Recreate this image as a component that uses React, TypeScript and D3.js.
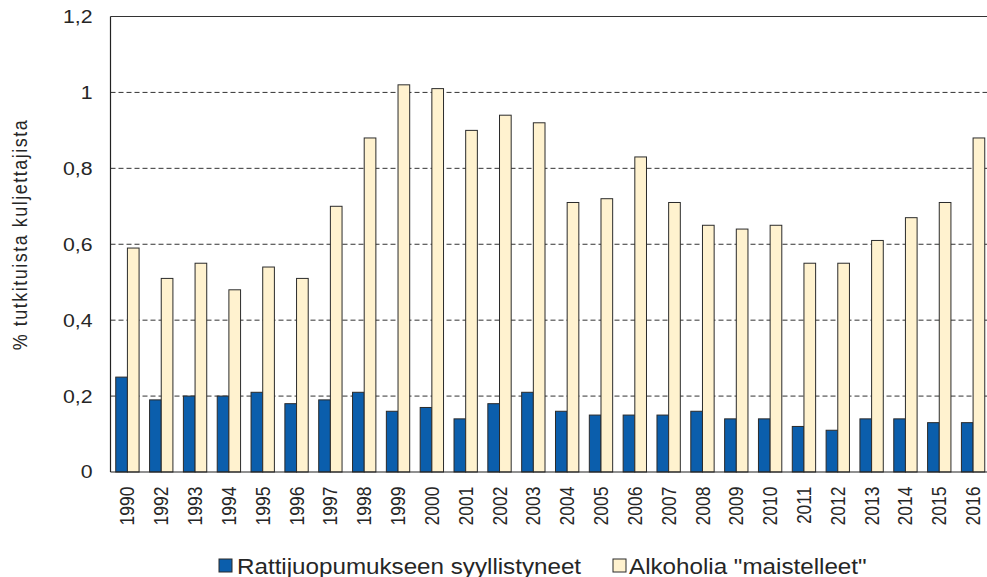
import * as d3 from 'd3';

const years = ['1990', '1992', '1993', '1994', '1995', '1996', '1997', '1998', '1999', '2000', '2001', '2002', '2003', '2004', '2005', '2006', '2007', '2008', '2009', '2010', '2011', '2012', '2013', '2014', '2015', '2016'];
const guilty = [0.25, 0.19, 0.2, 0.2, 0.21, 0.18, 0.19, 0.21, 0.16, 0.17, 0.14, 0.18, 0.21, 0.16, 0.15, 0.15, 0.15, 0.16, 0.14, 0.14, 0.12, 0.11, 0.14, 0.14, 0.13, 0.13];
const tasted = [0.59, 0.51, 0.55, 0.48, 0.54, 0.51, 0.7, 0.88, 1.02, 1.01, 0.9, 0.94, 0.92, 0.71, 0.72, 0.83, 0.71, 0.65, 0.64, 0.65, 0.55, 0.55, 0.61, 0.67, 0.71, 0.88];
const seriesNames = ['Rattijuopumukseen syyllistyneet', 'Alkoholia "maistelleet"'];
const yTicks = [0, 0.2, 0.4, 0.6, 0.8, 1, 1.2];

const COLORS = ['#0B5EAC', '#FFF2CF'];
const FONT = '"Liberation Sans", Arial, sans-serif';
const TEXT = '#262626';

export default function App() {
  const width = 987;
  const height = 577;
  const margin = { top: 16.5, left: 110.5, right: -3, bottom: 105 };
  const innerW = width - margin.left - margin.right;
  const innerH = height - margin.top - margin.bottom;

  const x = d3.scaleBand().domain(years).range([0, innerW]).paddingInner(0.31).paddingOuter(0.155);
  const x1 = d3.scaleBand().domain(['a', 'b']).range([0, x.bandwidth()]);
  const y = d3.scaleLinear().domain([0, 1.2]).range([innerH, 0]);
  const fmt = (v: number) => String(+v.toFixed(1)).replace('.', ',');

  return (
    <svg width={width} height={height} style={{ position: 'absolute', left: 0, top: 0 }} fontFamily={FONT}>
      <g transform={`translate(${margin.left},${margin.top})`}>
        {yTicks.filter(t => t > 0 && t < 1.2).map(t => (
          <line key={t} x1={0} x2={innerW} y1={y(t)} y2={y(t)} stroke="#333" strokeWidth={1} strokeDasharray="5,3" />
        ))}
        <line x1={0} x2={innerW} y1={y(1.2)} y2={y(1.2)} stroke="#333" strokeWidth={1.2} />
        {years.map((yr, i) => (
          <g key={yr} transform={`translate(${x(yr)},0)`}>
            <rect x={x1('a')} y={y(guilty[i])} width={x1.bandwidth()} height={innerH - y(guilty[i])} fill={COLORS[0]} stroke="#2b2b2b" strokeWidth={1} />
            <rect x={x1('b')} y={y(tasted[i])} width={x1.bandwidth()} height={innerH - y(tasted[i])} fill={COLORS[1]} stroke="#2b2b2b" strokeWidth={1} />
          </g>
        ))}
        <line x1={0} x2={0} y1={0} y2={innerH} stroke="#222" strokeWidth={1.2} />
        <line x1={0} x2={innerW} y1={innerH} y2={innerH} stroke="#222" strokeWidth={1.2} />
        {yTicks.map(t => (
          <text key={t} transform={`translate(-18,${y(t)}) scale(1.15,1)`} dy="0.35em" textAnchor="end" fontSize={18.5} fill={TEXT}>{fmt(t)}</text>
        ))}
        {years.map(yr => (
          <text key={yr} transform={`translate(${(x(yr) ?? 0) + x.bandwidth() / 2},${innerH + 14.5}) rotate(-90) scale(1,1.15)`} dy="0.35em" textAnchor="end" fontSize={17.5} fill={TEXT}>{yr}</text>
        ))}
        <text transform={`translate(-91,218) rotate(-90) scale(1,1.15)`} dy="0.35em" textAnchor="middle" fontSize={18} letterSpacing={1.5} fill={TEXT}>% tutkituista  kuljettajista</text>
      </g>
      <rect x={219} y={559} width={13} height={13} fill={COLORS[0]} stroke="#2b2b2b" />
      <text transform="translate(237,566) scale(1.1,1)" dy="0.35em" fontSize={22} fill={TEXT}>{seriesNames[0]}</text>
      <rect x={613} y={559} width={13} height={13} fill={COLORS[1]} stroke="#2b2b2b" />
      <text transform="translate(629,566) scale(1.1,1)" dy="0.35em" fontSize={22} fill={TEXT}>{seriesNames[1]}</text>
    </svg>
  );
}
